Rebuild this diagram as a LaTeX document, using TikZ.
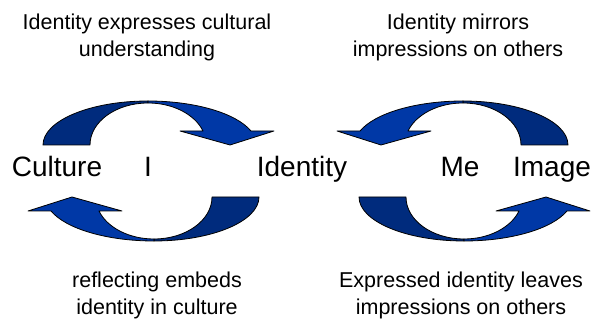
\documentclass[tikz,border=0pt]{standalone}
\usepackage{fontspec}
\setmainfont{Liberation Sans}
\usetikzlibrary{positioning}

\definecolor{arrowdark}{RGB}{0,43,125}
\definecolor{arrowlight}{RGB}{0,56,166}

\tikzset{
  bigword/.style={font=\fontsize{28}{34}\selectfont, inner sep=0pt, anchor=base},
  caption/.style={font=\fontsize{21.5}{27}\selectfont, align=center, inner sep=0pt},
  bandpart/.style={draw=black, line width=0.8pt, line join=round},
  pics/curvedarrow/.style={code={
    % tail half
    \path[bandpart, fill=arrowdark] (-105,0)
      arc[start angle=180, end angle=90, x radius=105, y radius=44]
      -- (0,42) arc[start angle=90, end angle=180, x radius=58, y radius=42] -- cycle;
    % head half
    \path[bandpart, fill=arrowlight] (0,44)
      arc[start angle=90, end angle=18.55, x radius=108.6, y radius=44]
      -- (126,14) -- (82,0) -- (32,14) -- (55,14)
      arc[start angle=19.47, end angle=90, x radius=58.3, y radius=42] -- cycle;
  }}
}

\begin{document}
\begin{tikzpicture}[x=1pt, y=1pt]
\useasboundingbox (0,0) rectangle (596,320);

% the words in the middle row
\node[bigword] (culture)  at (57,143)  {Culture};
\node[bigword] (i)        at (148,143) {I};
\node[bigword] (identity) at (302,143) {Identity};
\node[bigword] (me)       at (460,143) {Me};
\node[bigword] (image)    at (552,143) {Image};

% the four curved arrows
\coordinate (tl) at (148,175);
\coordinate (bl) at (154,123);
\coordinate (tr) at (463,175);
\coordinate (br) at (464,123);
\pic at (tl) {curvedarrow};
\pic[rotate=180] at (bl) {curvedarrow};
\pic[xscale=-1] at (tr) {curvedarrow};
\pic[yscale=-1] at (br) {curvedarrow};

% captions
\node[caption] (expresses) at (147,283) {Identity expresses cultural\\understanding};
\node[caption] (mirrors)   at (458,283) {Identity mirrors\\impressions on others};
\node[caption] (embeds)    at (157,25)  {reflecting embeds\\identity in culture};
\node[caption] (leaves)    at (461,25)  {Expressed identity leaves\\impressions on others};
\end{tikzpicture}
\end{document}
